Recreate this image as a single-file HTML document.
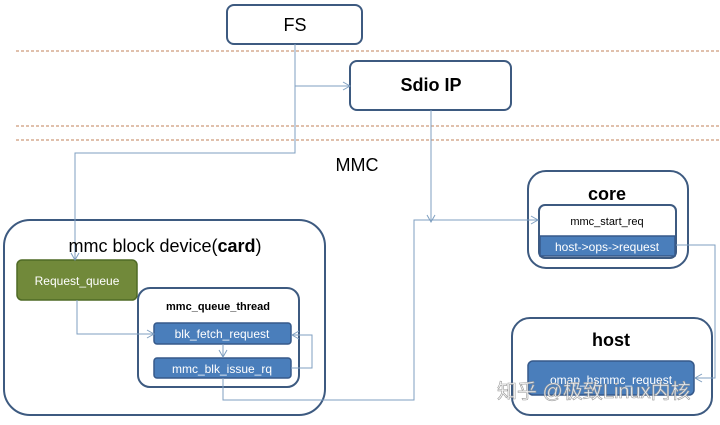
<!DOCTYPE html>
<html><head><meta charset="utf-8"><style>
html,body{margin:0;padding:0;background:#fff;}
</style></head><body>
<svg width="720" height="420" xmlns="http://www.w3.org/2000/svg" font-family="Liberation Sans, sans-serif">
<defs><marker id="a" markerWidth="10" markerHeight="10" refX="8" refY="5" orient="auto" markerUnits="userSpaceOnUse"><path d="M1,1 L8,5 L1,9" fill="none" stroke="#7f9fc0" stroke-width="1"/></marker></defs>
<g stroke="#c0805a" stroke-width="1" stroke-dasharray="3,2">
<line x1="16" y1="51" x2="720" y2="51"/><line x1="16" y1="126" x2="720" y2="126"/><line x1="16" y1="140" x2="720" y2="140"/>
</g>
<g fill="#fff" stroke="#3d5a80" stroke-width="2">
<rect x="227" y="5" width="135" height="39" rx="7"/>
<rect x="350" y="61" width="161" height="49" rx="7"/>
<rect x="4" y="220" width="321" height="195" rx="26"/>
<rect x="528" y="171" width="160" height="97" rx="18"/>
<rect x="512" y="318" width="200" height="97" rx="18"/>
<rect x="138" y="288" width="161" height="99" rx="12"/>
<rect x="539" y="205" width="137" height="53" rx="6"/>
</g>
<rect x="17" y="260" width="120" height="40" rx="5" fill="#71893a" stroke="#4f6a25" stroke-width="1.5"/>
<g fill="#4a7ebb" stroke="#36598a" stroke-width="1.5">
<rect x="154" y="323" width="137" height="21" rx="3"/>
<rect x="154" y="358" width="137" height="20" rx="3"/>
<rect x="540" y="236" width="135" height="20"/>
<rect x="528" y="361" width="166" height="34" rx="5"/>
</g>
<g fill="none" stroke="#7f9fc0" stroke-width="1">
<polyline points="295,44 295,153 75,153 75,260" marker-end="url(#a)"/>
<polyline points="295,86 350,86" marker-end="url(#a)"/>
<polyline points="431,110 431,222" marker-end="url(#a)"/>
<polyline points="223,378 223,400 414,400 414,220 538,220" marker-end="url(#a)"/>
<polyline points="77,300 77,334 154,334" marker-end="url(#a)"/>
<polyline points="223,344 223,357" marker-end="url(#a)"/>
<polyline points="291,368 312,368 312,335 292,335" marker-end="url(#a)"/>
<polyline points="676,245 715,245 715,378 695,378" marker-end="url(#a)"/>
</g>
<g text-anchor="middle" fill="#000">
<text x="295" y="31" font-size="18">FS</text>
<text x="431" y="91" font-size="18" font-weight="bold">Sdio IP</text>
<text x="357" y="171" font-size="18">MMC</text>
<text x="165" y="252" font-size="18">mmc block device(<tspan font-weight="bold">card</tspan>)</text>
<text x="218" y="310" font-size="11" font-weight="bold">mmc_queue_thread</text>
<text x="607" y="200" font-size="18" font-weight="bold">core</text>
<text x="607" y="225" font-size="11">mmc_start_req</text>
<text x="611" y="346" font-size="18" font-weight="bold">host</text>
</g>
<g text-anchor="middle" fill="#fff" font-size="12">
<text x="77" y="285">Request_queue</text>
<text x="222" y="338">blk_fetch_request</text>
<text x="222" y="373">mmc_blk_issue_rq</text>
<text x="607" y="251">host-&gt;ops-&gt;request</text>
<text x="611" y="384">omap_hsmmc_request</text>
</g>
<text x="497" y="398" font-size="20" fill="#fff" fill-opacity="0.85" stroke="#999" stroke-width="0.6" font-family="Liberation Sans, Noto Sans CJK SC, sans-serif">知乎 @极致Linux内核</text>
</svg>
</body></html>
